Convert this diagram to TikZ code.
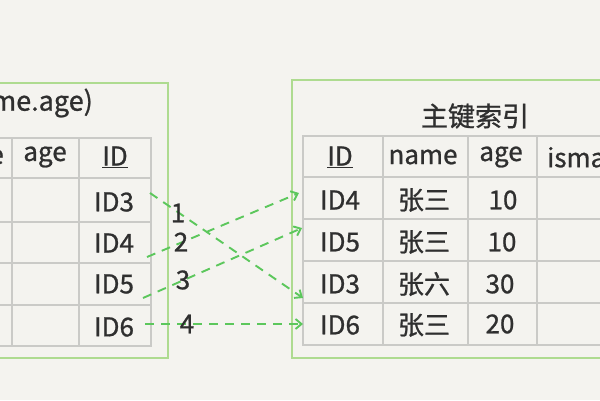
\documentclass[tikz,border=0pt]{standalone}
\usepackage{fontspec}
\setmainfont{Noto Sans CJK SC}[AutoFakeBold=0.9]
\usetikzlibrary{arrows.meta}
\definecolor{bg}{HTML}{F4F3EF}
\definecolor{ink}{HTML}{2F2F2F}
\definecolor{gridc}{HTML}{CACAC7}
\definecolor{boxg}{HTML}{AEDB90}
\definecolor{arrg}{HTML}{5CC75C}
\begin{document}
\begin{tikzpicture}[x=1pt,y=-1pt,
  txt/.style={text=ink,font=\fontsize{26}{26}\selectfont\bfseries,inner sep=0pt},
  cjk/.style={text=ink,font=\fontsize{26}{26}\selectfont\bfseries,inner sep=0pt},
  ttl/.style={text=ink,font=\fontsize{27}{27}\selectfont\bfseries,inner sep=0pt},
  numlbl/.style={text=ink,font=\fontsize{26}{26}\selectfont\bfseries,inner sep=0pt},
  gbox/.style={draw=boxg,line width=1.8pt},
  grid/.style={draw=gridc,line width=1.8pt},
  link/.style={draw=arrg,line width=1.9pt,dash pattern=on 9pt off 7pt,-{Straight Barb[length=6pt,width=10pt]}}]
\fill[bg] (0,0) rectangle (600,400);
\useasboundingbox (0,0) rectangle (600,400);
\clip (0,0) rectangle (600,400);
% left index box
\draw[gbox] (-20,83) rectangle (168,358);
\draw[grid] (-60,138) rectangle (151,346);
\foreach \yy in {178,222,263,305} \draw[grid] (-60,\yy) -- (151,\yy);
\foreach \xx in {12,79} \draw[grid] (\xx,138) -- (\xx,346);
\node[ttl,anchor=east] (ltitle) at (93,103) {(name.age)};
\node[txt,anchor=east] (lname) at (4,157) {name};
\node[txt] (lage) at (45,157) {age};
\node[txt] (lid) at (115,157) {\underline{ID}};
\node[txt] (l3) at (114,202) {ID3};
\node[txt] (l4) at (114,243) {ID4};
\node[txt] (l5) at (114,284) {ID5};
\node[txt] (l6) at (114,327) {ID6};
% right primary key box
\draw[gbox] (292,80) rectangle (640,358);
\draw[grid] (303,136) rectangle (640,345);
\foreach \yy in {177,219,261,303} \draw[grid] (303,\yy) -- (640,\yy);
\foreach \xx in {383,468,537} \draw[grid] (\xx,136) -- (\xx,345);
\node[ttl] (rtitle) at (475,116) {主键索引};
\node[txt] (rid) at (340,157) {\underline{ID}};
\node[txt] (rname) at (423,157) {name};
\node[txt] (rage) at (501,157) {age};
\node[txt,anchor=west] (rismale) at (547,157) {ismale};
\node[txt] (r4) at (340,200) {ID4};
\node[cjk] (n4) at (424,200) {张三};
\node[txt] (a4) at (503,200) {10};
\node[txt] (r5) at (340,242) {ID5};
\node[cjk] (n5) at (424,242) {张三};
\node[txt] (a5) at (502,242) {10};
\node[txt] (r3) at (340,284) {ID3};
\node[cjk] (n3) at (424,284) {张六};
\node[txt] (a3) at (500,284) {30};
\node[txt] (r6) at (340,325) {ID6};
\node[cjk] (n6) at (424,325) {张三};
\node[txt] (a6) at (500,324) {20};
% connectors
\coordinate (s1) at (150,193);
\coordinate (e1) at (303,298);
\coordinate (s2) at (147,257);
\coordinate (e2) at (299,193);
\coordinate (s3) at (143,298);
\coordinate (e3) at (302,228);
\coordinate (s4) at (145,324);
\coordinate (e4) at (303,324);
\draw[link] (s1) -- (e1);
\draw[link] (s2) -- (e2);
\draw[link] (s3) -- (e3);
\draw[link] (s4) -- (e4);
\node[numlbl] (k1) at (178,213) {1};
\node[numlbl] (k2) at (181,242) {2};
\node[numlbl] (k3) at (183,280) {3};
\node[numlbl] (k4) at (187,324) {4};
\end{tikzpicture}
\end{document}
